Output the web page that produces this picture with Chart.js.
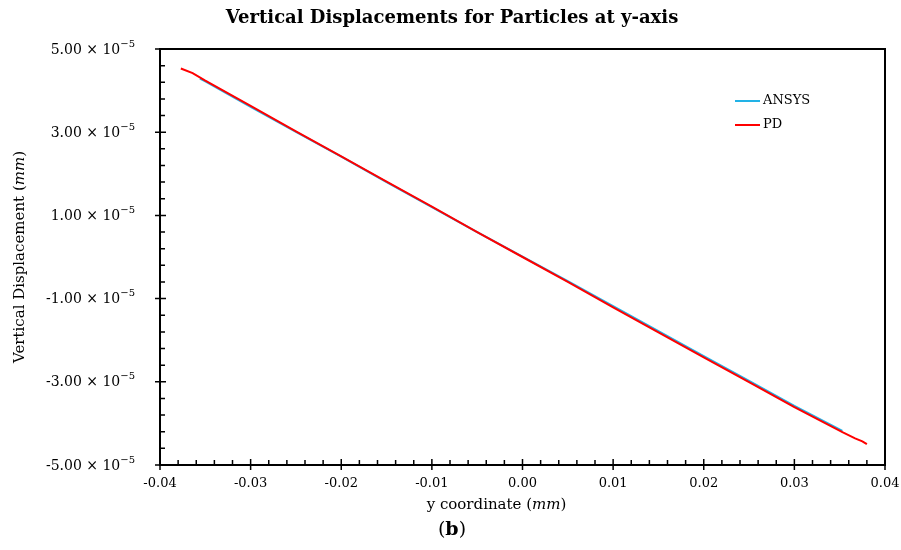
<!DOCTYPE html>
<html>
<head>
<meta charset="utf-8">
<script src="https://cdn.jsdelivr.net/npm/chart.js@4.4.0/dist/chart.umd.min.js"></script>
<style>
  html, body { margin: 0; padding: 0; background: #fff; }
  #wrap { width: 901px; height: 550px; }
</style>
</head>
<body>
<div id="wrap"><canvas id="dispChart" width="901" height="550"></canvas></div>
<script>
// data (y in mm, displacement in mm)
const ansysX = [-0.0356, -0.035, -0.03, -0.025, -0.02, -0.015, -0.01, -0.005, 0, 0.005, 0.01, 0.015, 0.02, 0.025, 0.03, 0.0353];
const ansysY = [4.29e-5, 4.22e-5, 3.61e-5, 3.01e-5, 2.41e-5, 1.80e-5, 1.20e-5, 0.60e-5, 0.01e-5, -0.58e-5, -1.18e-5, -1.78e-5, -2.38e-5, -2.98e-5, -3.58e-5, -4.18e-5];
const pdX = [-0.0377, -0.0364, -0.035, -0.03, -0.025, -0.02, -0.015, -0.01, -0.005, 0, 0.005, 0.01, 0.015, 0.02, 0.025, 0.03, 0.0353, 0.0367, 0.0375, 0.038];
const pdY = [4.53e-5, 4.42e-5, 4.24e-5, 3.63e-5, 3.02e-5, 2.42e-5, 1.81e-5, 1.21e-5, 0.60e-5, 0, -0.60e-5, -1.21e-5, -1.81e-5, -2.41e-5, -3.01e-5, -3.61e-5, -4.21e-5, -4.36e-5, -4.43e-5, -4.50e-5];

const xTicks = [-0.04, -0.03, -0.02, -0.01, 0, 0.01, 0.02, 0.03, 0.04];
const yTicks = [-5e-5, -3e-5, -1e-5, 1e-5, 3e-5, 5e-5];
const yTickLabels = ['-5.00', '-3.00', '-1.00', '1.00', '3.00', '5.00'];

const SERIF = '"DejaVu Serif", "Liberation Serif", serif';

function pairs(xs, ys) {
    return xs.map((x, i) => ({ x: x, y: ys[i] }));
}

// draws a row of [text, font, dy] pieces, anchored by align
function drawPieces(ctx, pieces, x, y, align) {
    let total = 0;
    pieces.forEach(p => { ctx.font = p[1]; total += ctx.measureText(p[0]).width; });
    let cx = align === 'center' ? x - total / 2 : (align === 'right' ? x - total : x);
    pieces.forEach(p => {
        ctx.font = p[1];
        ctx.fillText(p[0], cx, y + (p[2] || 0));
        cx += ctx.measureText(p[0]).width;
    });
}

const decorPlugin = {
    id: 'decor',
    afterDraw(chart) {
        const ctx = chart.ctx;
        const area = chart.chartArea;
        const xs = chart.scales.x;
        const ys = chart.scales.y;
        ctx.save();
        ctx.fillStyle = '#000';
        ctx.strokeStyle = '#000';
        ctx.textBaseline = 'middle';

        // frame
        ctx.lineWidth = 2;
        ctx.strokeRect(area.left, area.top, area.right - area.left, area.bottom - area.top);

        // major ticks cross the axis, minor ticks point inward
        ctx.lineWidth = 1.5;
        ctx.beginPath();
        for (let i = 0; i <= 40; i++) {
            const px = xs.getPixelForValue(-0.04 + i * 0.002);
            const major = i % 5 === 0;
            ctx.moveTo(px, area.bottom + (major ? 5 : 0));
            ctx.lineTo(px, area.bottom - (major ? 6 : 5));
        }
        for (let i = 0; i <= 25; i++) {
            const py = ys.getPixelForValue(-5e-5 + i * 0.4e-5);
            const major = i % 5 === 0;
            ctx.moveTo(area.left - (major ? 5 : 0), py);
            ctx.lineTo(area.left + (major ? 6 : 5), py);
        }
        ctx.stroke();

        // y tick labels with superscript exponent
        yTicks.forEach((v, i) => {
            const py = ys.getPixelForValue(v);
            drawPieces(ctx, [
                [yTickLabels[i] + ' \u00d7 10', '14px ' + SERIF],
                ['\u22125', '10px ' + SERIF, -6]
            ], 135, py + 1, 'right');
        });

        // title
        drawPieces(ctx, [['Vertical Displacements for Particles at y-axis', 'bold 18px ' + SERIF]], 452, 18, 'center');

        // x axis title
        const xMid = (area.left + area.right) / 2;
        drawPieces(ctx, [
            ['y coordinate (', '15px ' + SERIF],
            ['mm', 'italic 15px ' + SERIF],
            [')', '15px ' + SERIF]
        ], xMid - 26, 505, 'center');

        // panel label
        drawPieces(ctx, [
            ['(', '19px ' + SERIF],
            ['b', 'bold 19px ' + SERIF],
            [')', '19px ' + SERIF]
        ], 452, 530, 'center');

        // y axis title
        ctx.save();
        ctx.translate(20, 257);
        ctx.rotate(-Math.PI / 2);
        drawPieces(ctx, [
            ['Vertical Displacement (', '15px ' + SERIF],
            ['mm', 'italic 15px ' + SERIF],
            [')', '15px ' + SERIF]
        ], 0, 0, 'center');
        ctx.restore();

        // legend
        chart.data.datasets.forEach((ds, i) => {
            const ly = 101 + i * 24;
            ctx.strokeStyle = ds.borderColor;
            ctx.lineWidth = 2;
            ctx.beginPath();
            ctx.moveTo(735, ly);
            ctx.lineTo(760, ly);
            ctx.stroke();
            drawPieces(ctx, [[ds.label, '13px ' + SERIF]], 763, ly, 'left');
        });

        ctx.restore();
    }
};

document.addEventListener('DOMContentLoaded', () => {
    const ctx = document.getElementById('dispChart').getContext('2d');
    new Chart(ctx, {
        type: 'scatter',
        data: {
            datasets: [{
                label: 'ANSYS',
                data: pairs(ansysX, ansysY),
                showLine: true,
                borderColor: '#22b2e6',
                borderWidth: 2,
                pointRadius: 0,
                order: 1
            }, {
                label: 'PD',
                data: pairs(pdX, pdY),
                showLine: true,
                borderColor: '#ff0000',
                borderWidth: 2,
                pointRadius: 0,
                order: 0
            }]
        },
        options: {
            responsive: false,
            animation: false,
            layout: { padding: { top: 49, right: 16, left: 0, bottom: 0 } },
            plugins: {
                legend: { display: false },
                tooltip: { enabled: false }
            },
            scales: {
                x: {
                    type: 'linear',
                    min: -0.04,
                    max: 0.04,
                    afterBuildTicks: (scale) => { scale.ticks = xTicks.map(v => ({ value: v })); },
                    afterFit: (scale) => {
                        scale.height = 85;
                        scale.paddingLeft = 0;
                        scale.paddingRight = 0;
                    },
                    grid: { display: false, drawTicks: false },
                    border: { display: false },
                    ticks: {
                        color: '#000',
                        padding: 11,
                        maxRotation: 0,
                        font: { family: SERIF, size: 13 },
                        callback: (v) => v.toFixed(2)
                    }
                },
                y: {
                    type: 'linear',
                    min: -5e-5,
                    max: 5e-5,
                    afterBuildTicks: (scale) => { scale.ticks = yTicks.map(v => ({ value: v })); },
                    afterFit: (scale) => { scale.width = 160; },
                    grid: { display: false, drawTicks: false },
                    border: { display: false },
                    ticks: { display: false }
                }
            }
        },
        plugins: [decorPlugin]
    });
});
</script>
</body>
</html>
